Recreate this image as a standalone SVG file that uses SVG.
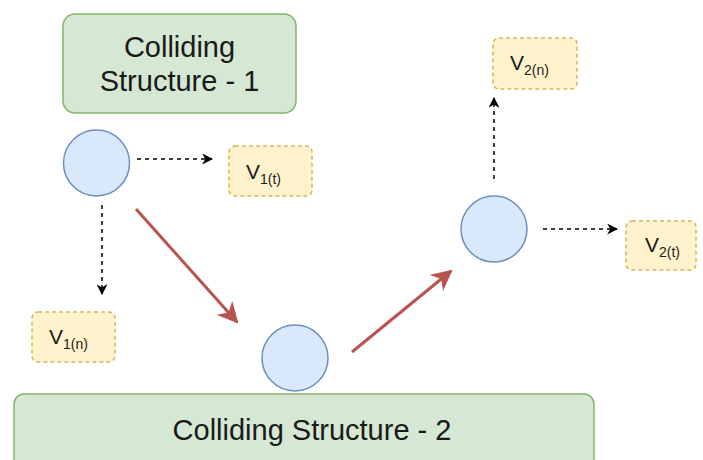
<svg xmlns="http://www.w3.org/2000/svg" width="703" height="460" viewBox="0 0 703 460">
<defs>
<style>
.struct{fill:#d5e8d4;stroke:#82b366;stroke-width:1.5}
.ball{fill:#dae8fc;stroke:#6c8ebf;stroke-width:1.5}
.vel{fill:#fff2cc;stroke:#d6b656;stroke-width:1.5;stroke-dasharray:4 3}
.t{font-family:"Liberation Sans",Arial,sans-serif;fill:#1a1a1a}
.big{font-size:29px;text-anchor:middle}
.v{font-size:21px}
.sub{font-size:14px}
.dash{stroke:#000;stroke-width:1.5;stroke-dasharray:4 4;fill:none}
.red{stroke:#b85450;stroke-width:3;fill:none}
</style>
<marker id="ah" viewBox="0 0 10 10" refX="9" refY="5" markerWidth="11" markerHeight="11" markerUnits="userSpaceOnUse" orient="auto"><path d="M0,0 L10,5 L0,10 L3,5 Z" fill="#000"/></marker>
<marker id="ahr" viewBox="0 0 10 10" refX="9" refY="5" markerWidth="7" markerHeight="7" orient="auto"><path d="M0,0 L10,5 L0,10 L3,5 Z" fill="#b85450"/></marker>
</defs>
<g id="structure1"><rect class="struct" x="63" y="14" width="233" height="99" rx="12"/><text class="t big" x="179.5" y="57">Colliding</text><text class="t big" x="179.5" y="91">Structure - 1</text></g>
<g id="structure2"><rect class="struct" x="14" y="394" width="580" height="80" rx="10"/><text class="t big" x="312" y="440">Colliding Structure - 2</text></g>
<g id="ball1"><circle class="ball" cx="96.5" cy="163" r="33"/></g>
<g id="ball2"><circle class="ball" cx="295" cy="358" r="33"/></g>
<g id="ball3"><circle class="ball" cx="494" cy="229" r="33"/></g>
<g id="v1t"><rect class="vel" x="229" y="146" width="83" height="50" rx="6"/><text class="t" x="246" y="179"><tspan class="v">V</tspan><tspan class="sub" dy="5">1(t)</tspan></text></g>
<g id="v1n"><rect class="vel" x="32" y="312" width="83" height="50" rx="6"/><text class="t" x="49" y="344"><tspan class="v">V</tspan><tspan class="sub" dy="5">1(n)</tspan></text></g>
<g id="v2n"><rect class="vel" x="493" y="38" width="84" height="51" rx="6"/><text class="t" x="510" y="70"><tspan class="v">V</tspan><tspan class="sub" dy="5">2(n)</tspan></text></g>
<g id="v2t"><rect class="vel" x="626" y="221" width="70" height="49" rx="6"/><text class="t" x="645" y="252"><tspan class="v">V</tspan><tspan class="sub" dy="5">2(t)</tspan></text></g>
<g id="connectors">
<path class="dash" d="M137,159 H212" marker-end="url(#ah)"/>
<path class="dash" d="M102,205 V294" marker-end="url(#ah)"/>
<path class="dash" d="M494,179 V98" marker-end="url(#ah)"/>
<path class="dash" d="M543,229 H617" marker-end="url(#ah)"/>
<path class="red" d="M136,209 L237,322" marker-end="url(#ahr)"/>
<path class="red" d="M352,352 L451,271" marker-end="url(#ahr)"/>
</g>
</svg>
